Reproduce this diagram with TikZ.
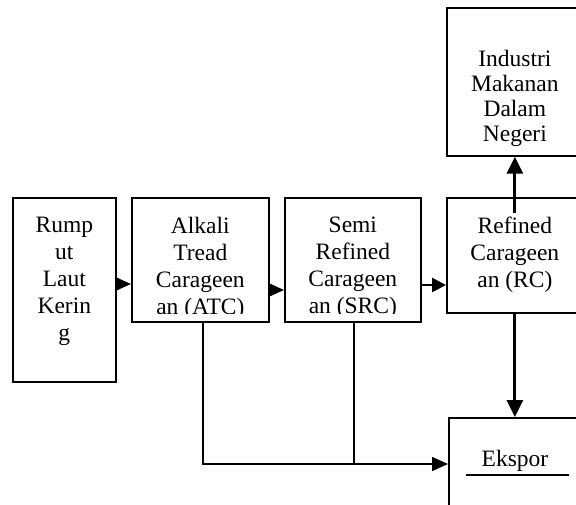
\documentclass[tikz,border=0pt]{standalone}
\usepackage{fontspec}
\setmainfont{Liberation Serif}
\usetikzlibrary{arrows.meta}

\tikzset{
  kotak/.style={draw, line width=1.7pt, inner sep=0pt, anchor=north west},
  isi/.style={align=center, inner sep=0pt, anchor=north,
    font=\fontsize{23.5}{27}\selectfont},
  garis/.style={line width=1.7pt},
  panah/.style={garis, -{Triangle[length=16pt,width=14pt]}},
  panahtebal/.style={garis, line width=2.8pt, -{Triangle[length=17pt,width=16pt]}},
}

\begin{document}
\begin{tikzpicture}[x=1pt, y=-1pt]
\useasboundingbox (0,0) rectangle (576,504);
\clip (0,0) rectangle (576,504);

% kotak-kotak
\node [kotak, minimum width=103pt, minimum height=184pt] (rumput) at (12,197) {};
\node [kotak, minimum width=137pt, minimum height=124pt] (atc) at (131,197) {};
\node [kotak, minimum width=136pt, minimum height=124pt] (src) at (284,197) {};
\node [kotak, minimum width=136pt, minimum height=115pt] (rc) at (446,197) {};
\node [kotak, minimum width=136pt, minimum height=148pt] (industri) at (446,7) {};
\node [kotak, minimum width=134pt, minimum height=130pt] (ekspor) at (448,417) {};

% teks
\node [isi] at ([yshift=-20pt]rumput.north) {Rump\\ut\\Laut\\Kerin\\g};
\begin{scope}
\clip (atc.north west) rectangle ([yshift=9pt]atc.south east);
\node [isi] at ([yshift=-20pt]atc.north) {Alkali\\Tread\\Carageen\\an (ATC)};
\end{scope}
\begin{scope}
\clip (src.north west) rectangle ([yshift=9pt]src.south east);
\node [isi] at ([yshift=-20pt]src.north) {Semi\\Refined\\Carageen\\an (SRC)};
\end{scope}
\node [isi] at ([yshift=-20pt]rc.north) {Refined\\Carageen\\an (RC)};
\node [isi, font=\fontsize{23.5}{25}\selectfont] at ([yshift=-43pt]industri.north) {Industri\\Makanan\\Dalam\\Negeri};
\node [isi, anchor=base] (ekspor-teks) at (515,466) {Ekspor};
\draw [line width=1.6pt] (466,475) -- (569,475);

% panah
\draw [panah] (rumput.east |- 0,284) -- (atc.west |- 0,284);
\draw [panah] (atc.east |- 0,290) -- (src.west |- 0,290);
\draw [panahtebal, -{Triangle[length=14pt,width=14pt]}] (src.east |- 0,285) -- (rc.west |- 0,285);
\draw [panahtebal] ([yshift=-16pt]rc.north) -- (industri.south);
\draw [panahtebal] (rc.south) -- (rc.south |- ekspor.north);
\coordinate (gabung) at (354,464);
\draw [garis] (src.south -| gabung) -- (gabung);
\draw [panah] (atc.south -| 203,0) |- (ekspor.west |- gabung);
\end{tikzpicture}
\end{document}
